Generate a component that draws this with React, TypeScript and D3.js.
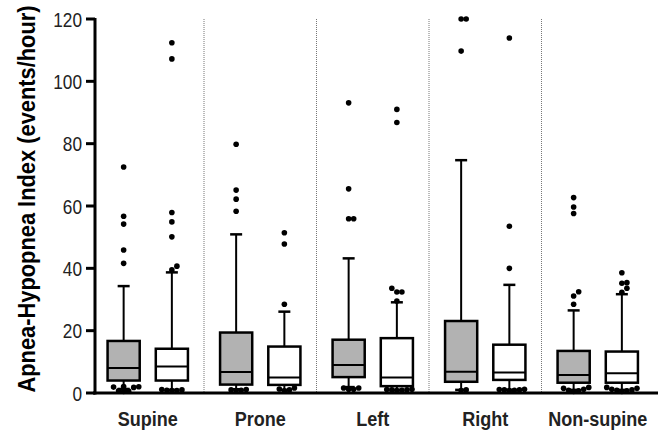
import React from 'react';
import * as d3 from 'd3';

const categories = ['Supine', 'Prone', 'Left', 'Right', 'Non-supine'];
const series = ['gray', 'white'];
const yTicks = [0, 20, 40, 60, 80, 100, 120];

// [whiskerLow, q1, median, q3, whiskerHigh]
const grayStats = [
  [1.3, 4.0, 8.0, 16.7, 34.3],
  [1.2, 2.7, 6.7, 19.4, 50.9],
  [1.9, 5.1, 9.0, 17.1, 43.2],
  [1.0, 3.6, 6.8, 23.1, 74.7],
  [1.0, 3.3, 5.8, 13.5, 26.5],
];
const whiteStats = [
  [1.0, 4.0, 8.5, 14.2, 38.7],
  [1.0, 2.6, 5.0, 14.9, 26.1],
  [1.0, 2.2, 5.0, 17.6, 29.1],
  [1.0, 4.2, 6.6, 15.5, 34.7],
  [1.0, 3.3, 6.3, 13.3, 31.7],
];
const grayOutliers = [
  [72.5, 56.7, 54.2, 45.9, 41.6, 2.1, 2.0, 1.9, 1.8, 0.7, 0.6, 0.5],
  [79.8, 65.1, 62.2, 58.3, 0.8, 0.9, 1.0, 1.1],
  [93.1, 65.5, 55.9, 55.9, 1.6, 1.6, 1.2, 1.2],
  [120, 120, 109.7, 0.8, 1.0],
  [62.7, 59.7, 57.6, 32.5, 31.1, 28.5, 0.5, 0.7, 0.9, 1.2, 1.5, 1.8],
];
const whiteOutliers = [
  [112.4, 107.2, 57.9, 54.9, 50.1, 40.7, 39.5, 0.8, 0.8, 0.9, 1.0, 1.1],
  [51.4, 47.8, 28.5, 1.0, 1.3, 1.6, 0.7],
  [91.0, 86.8, 33.6, 32.4, 32.4, 29.5, 0.8, 0.9, 1.0, 1.0, 1.1, 1.2],
  [113.9, 53.5, 40.0, 0.8, 0.9, 1.0, 1.0, 1.2, 1.1],
  [38.6, 35.4, 35.2, 33.6, 32.3, 0.5, 0.7, 0.9, 1.0, 1.2, 1.5, 1.8],
];

const W = 660;
const H = 430;
const DOT_R = 2.8;

function swarm(values: number[], y: (v: number) => number) {
  const placed: { x: number; y: number }[] = [];
  const sorted = [...values].sort((a, b) => a - b);
  const step = DOT_R * 1.8;
  const minD = DOT_R * 1.75;
  for (const v of sorted) {
    const py = y(v);
    let k = 0;
    let px = 0;
    while (true) {
      const off = k === 0 ? 0 : Math.ceil(k / 2) * step * (k % 2 === 1 ? 1 : -1);
      const ok = placed.every((p) => Math.hypot(p.x - off, p.y - py) >= minD);
      if (ok) { px = off; break; }
      k++;
    }
    placed.push({ x: px, y: py });
  }
  return placed;
}

export default function App() {
  const x = d3.scaleBand().domain(categories).range([91.5, 654]).paddingInner(0).paddingOuter(0);
  const bw = x.bandwidth();
  const sub = d3.scaleBand().domain(series).range([0, bw]).paddingInner(1 / 3).paddingOuter(1 / 3);
  const boxW = sub.bandwidth();
  const y = d3.scaleLinear().domain([0, 120]).range([393, 19]);
  const axisX = 95;
  const capW = 12;

  const boxes: any[] = [];
  categories.forEach((c, i) => {
    series.forEach((s) => {
      const st = s === 'gray' ? grayStats[i] : whiteStats[i];
      const out = s === 'gray' ? grayOutliers[i] : whiteOutliers[i];
      const cx = (x(c) as number) + (sub(s) as number) + boxW / 2;
      boxes.push({ key: c + s, s, st, out, cx });
    });
  });

  return (
    <svg width={W} height={H} style={{ position: 'absolute', left: 0, top: 0, background: '#fff' }}>
      {categories.slice(1).map((c) => (
        <line key={c} x1={x(c)} x2={x(c)} y1={y(120)} y2={y(0)} stroke="#777" strokeWidth={1} strokeDasharray="1,1" />
      ))}
      {boxes.map((b) => {
        const [lo, q1, med, q3, hi] = b.st;
        const dots = swarm(b.out, y);
        return (
          <g key={b.key}>
            <line x1={b.cx} x2={b.cx} y1={y(q3)} y2={y(hi)} stroke="#000" strokeWidth={2} />
            <line x1={b.cx - capW / 2} x2={b.cx + capW / 2} y1={y(hi)} y2={y(hi)} stroke="#000" strokeWidth={2.5} />
            <line x1={b.cx} x2={b.cx} y1={y(q1)} y2={y(lo)} stroke="#000" strokeWidth={2} />
            <line x1={b.cx - capW / 2} x2={b.cx + capW / 2} y1={y(lo)} y2={y(lo)} stroke="#000" strokeWidth={2.5} />
            <rect x={b.cx - boxW / 2} y={y(q3)} width={boxW} height={y(q1) - y(q3)} fill={b.s === 'gray' ? '#b2b2b2' : '#fff'} stroke="#000" strokeWidth={2.5} />
            <line x1={b.cx - boxW / 2} x2={b.cx + boxW / 2} y1={y(med)} y2={y(med)} stroke="#000" strokeWidth={2} />
            {dots.map((d, j) => (
              <circle key={j} cx={b.cx + d.x} cy={d.y} r={DOT_R} fill="#000" />
            ))}
          </g>
        );
      })}
      <line x1={axisX - 2} x2={658} y1={y(0)} y2={y(0)} stroke="#000" strokeWidth={3} />
      <line x1={axisX} x2={axisX} y1={y(120) - 1} y2={y(0) + 1.5} stroke="#000" strokeWidth={3} />
      {yTicks.map((t) => (
        <g key={t}>
          <line x1={axisX - 9} x2={axisX} y1={y(t)} y2={y(t)} stroke="#000" strokeWidth={3} />
          <text transform={`translate(${axisX - 13}, ${y(t)}) scale(0.82, 1)`} dy="0.36em" textAnchor="end" fontFamily="'Liberation Sans', Arial, sans-serif" fontSize={21} fill="#222">
            {t}
          </text>
        </g>
      ))}
      <text transform={`translate(35, 199) rotate(-90) scale(0.95, 1)`} textAnchor="middle" fontFamily="'Liberation Sans', Arial, sans-serif" fontWeight="bold" fontSize={23} fill="#000">
        Apnea-Hypopnea Index (events/hour)
      </text>
      {categories.map((c) => (
        <text key={c} transform={`translate(${(x(c) as number) + bw / 2}, 426) scale(0.88, 1)`} textAnchor="middle" fontFamily="'Liberation Sans', Arial, sans-serif" fontWeight="bold" fontSize={20.5} fill="#222">
          {c}
        </text>
      ))}
    </svg>
  );
}
